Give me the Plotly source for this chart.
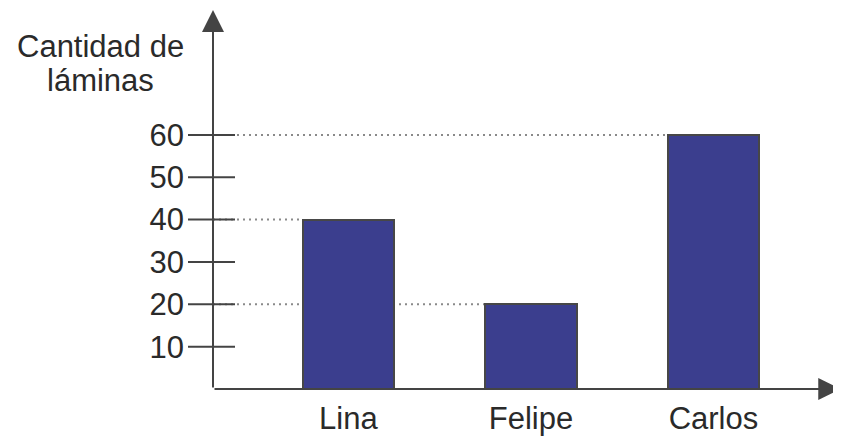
import plotly.graph_objects as go

categories = ["Lina", "Felipe", "Carlos"]
values = [40, 20, 60]
tick_values = [10, 20, 30, 40, 50, 60]
tick_labels = ["10", "20", "30", "40", "50", "60"]
title_lines = ["Cantidad de", "láminas"]

X0, X1 = -0.742, 2.699
Y0, Y1 = 0, 89.5
BAR_W = 0.5
FONT = "Liberation Sans, Arial, sans-serif"
TXT = "#2a2a2a"
AX = "#444444"

# page has an 8px body margin; figure size compensates
W, H = 833, 428
L, T, B, R = 205, 2, 47, 0
PW, PH = W - L - R, H - T - B


def dom_x(px):
    return (px - 8 - L) / PW


def dom_y(py):
    return 1 - (py - 8 - T) / PH


fig = go.Figure(go.Bar(
    x=list(range(len(categories))), y=values, width=BAR_W,
    marker=dict(color="#3b3e8e", line=dict(color="#474747", width=2)),
))

shapes = []
for v in tick_values:
    shapes.append(dict(type="line", xref="paper", yref="y", xsizemode="pixel", xanchor=0,
                       x0=-25, x1=22, y0=v, y1=v, line=dict(color=AX, width=2)))
for i, v in enumerate(values):
    shapes.append(dict(type="line", xref="x", yref="y", x0=X0, x1=i - BAR_W / 2,
                       y0=v, y1=v, line=dict(color="#8a8a8a", width=2, dash="2px,4px"),
                       layer="below"))

fig.update_layout(
    width=W, height=H,
    margin=dict(l=L, r=R, t=T, b=B),
    plot_bgcolor="white", paper_bgcolor="white",
    showlegend=False, bargap=0,
    shapes=shapes,
    xaxis=dict(range=[X0, X1], tickvals=list(range(len(categories))), ticktext=categories,
               showgrid=False, zeroline=False, showline=False, ticks="",
               ticklabelstandoff=8,
               tickfont=dict(size=31, color=TXT, family=FONT), fixedrange=True),
    yaxis=dict(range=[Y0, Y1], tickvals=tick_values, ticktext=tick_labels,
               showgrid=False, zeroline=False, showline=False, ticks="",
               ticklabelstandoff=28,
               tickfont=dict(size=31, color=TXT, family=FONT), fixedrange=True),
)

# axes with arrows
fig.add_annotation(x=X0, y=Y1, ax=X0, ay=0, xref="x", yref="y", axref="x", ayref="y",
                   showarrow=True, arrowhead=2, arrowsize=2.2, arrowwidth=2,
                   arrowcolor=AX, text="")
fig.add_annotation(x=X1 - 0.004, y=0, ax=X0, ay=0, xref="x", yref="y", axref="x", ayref="y",
                   showarrow=True, arrowhead=2, arrowsize=2.2, arrowwidth=2,
                   arrowcolor=AX, text="")
# axis title, two lines
for line, py in zip(title_lines, [46, 81]):
    fig.add_annotation(text=line, x=dom_x(100), y=dom_y(py), xref="x domain", yref="y domain",
                       showarrow=False, xanchor="center", yanchor="middle",
                       font=dict(size=31, color=TXT, family=FONT))

fig.write_html("out.html")
